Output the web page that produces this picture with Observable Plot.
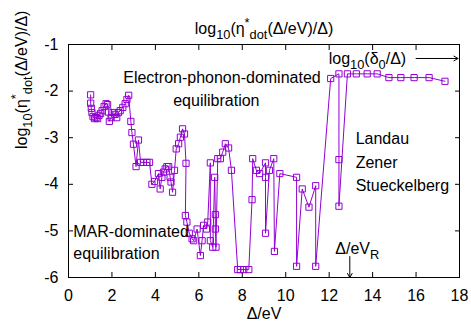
<!DOCTYPE html>
<html>
<head>
<meta charset="utf-8">
<script src="https://cdn.jsdelivr.net/npm/d3@7"></script>
<script src="https://cdn.jsdelivr.net/npm/@observablehq/plot@0.6"></script>
<style>
  html, body { margin: 0; padding: 0; background: #fff; }
  svg { font-family: "Liberation Sans", Arial, sans-serif; }
</style>
</head>
<body>
<div id="chart"></div>
<script>
// ---- data ----
const deltaEV = [
  1.02, 1.02, 1.05, 1.08, 1.13, 1.20, 1.27, 1.34, 1.41, 1.48,
  1.55, 1.64, 1.73, 1.80, 1.84, 1.88, 1.96, 2.05, 2.15, 2.22,
  2.30, 2.38, 2.50, 2.61, 2.69, 2.77, 2.87, 2.92, 2.99, 3.11,
  3.22, 3.32, 3.45, 3.61, 3.73, 3.84, 3.96, 4.14, 4.22, 4.30,
  4.37, 4.45, 4.53, 4.61, 4.68, 4.72, 4.79, 4.88, 4.96, 5.07,
  5.15, 5.25, 5.34, 5.41, 5.38, 5.45, 5.56, 5.69, 5.76, 5.92,
  6.07, 6.15, 6.22, 6.35, 6.41, 6.53, 6.53, 6.64, 6.73, 6.76,
  6.76, 6.79, 6.87, 6.99, 7.10, 7.22, 7.37, 7.50, 7.79, 7.91,
  8.07, 8.30, 8.45, 8.48, 8.65, 8.80, 9.07, 9.07, 9.07, 9.25,
  9.45, 9.48, 9.73, 10.50, 10.50, 10.76, 11.07, 11.38, 11.38, 12.07,
  12.45, 12.45, 12.45, 12.84, 13.25, 13.75, 14.21, 14.75, 15.30, 15.91,
  16.60, 17.33
];
const logEta = [
  -2.08, -2.26, -2.37, -2.46, -2.55, -2.59, -2.57, -2.59, -2.52, -2.48,
  -2.42, -2.33, -2.27, -2.29, -2.45, -2.65, -2.57, -2.46, -2.50, -2.57,
  -2.46, -2.42, -2.35, -2.27, -2.18, -2.09, -2.65, -2.89, -3.14, -3.62,
  -3.05, -3.53, -3.53, -3.53, -3.53, -4.00, -3.94, -3.77, -4.10, -3.85,
  -3.74, -3.67, -3.62, -3.62, -3.85, -3.95, -4.17, -3.70, -3.24, -3.13,
  -2.99, -2.81, -2.92, -3.55, -4.67, -4.81, -5.05, -5.17, -5.21, -4.96,
  -5.53, -5.21, -4.88, -4.96, -4.81, -3.54, -5.21, -5.35, -3.85, -4.65,
  -4.96, -5.35, -3.45, -3.45, -3.31, -3.13, -3.22, -3.70, -5.83, -5.83,
  -5.83, -5.83, -4.33, -3.45, -3.70, -3.77, -3.54, -3.85, -5.05, -3.70,
  -3.45, -5.44, -3.77, -3.85, -5.76, -4.10, -4.49, -4.03, -5.76, -1.73,
  -1.63, -3.47, -4.47, -1.63, -1.63, -1.63, -1.63, -1.71, -1.71, -1.71,
  -1.71, -1.79
];
const xTicks = [0, 2, 4, 6, 8, 10, 12, 14, 16, 18];
const yTicks = [-6, -5, -4, -3, -2, -1];
const eVR = 12.95;          // Δ/eV_R marker
const log10Delta0 = -1.3;   // log10(δ0/Δ) level indicated by the arrow

// ---- labels ----
const titleText = "log10(η*dot(Δ/eV)/Δ)";
const xLabel = "Δ/eV";
const notes = [
  {x: 2.52, y: -1.71, t: "Electron-phonon-dominated"},
  {x: 4.82, y: -2.22, t: "equilibration"},
  {x: 0.22, y: -5.02, t: "MAR-dominated"},
  {x: 0.22, y: -5.49, t: "equilibration"},
  {x: 13.22, y: -3.02, t: "Landau"},
  {x: 13.22, y: -3.53, t: "Zener"},
  {x: 13.22, y: -4.03, t: "Stueckelberg"},
  {x: 11.98, y: log10Delta0, t: "log10(δ0/Δ)"},
  {x: 12.28, y: -5.38, t: "Δ/eVR"}
];

const pts = deltaEV.map((x, i) => ({x, y: logEta[i]}));
const color = "#9400d3";

const plot = Plot.plot({
  width: 471,
  height: 326,
  marginLeft: 68,
  marginRight: 12,
  marginTop: 44,
  marginBottom: 49,
  style: {fontSize: "16px", fontFamily: "'Liberation Sans', Arial, sans-serif", color: "#000", background: "#fff"},
  x: {domain: [0, 18]},
  y: {domain: [-6, -1]},
  marks: [
    Plot.axisX(xTicks, {anchor: "bottom", tickSize: -5, tickPadding: 17.5, label: null, fontSize: 16}),
    Plot.axisX(xTicks, {anchor: "top", tickSize: -5, tickFormat: () => "", label: null}),
    Plot.axisY(yTicks, {anchor: "left", tickSize: -5, tickPadding: 15, label: null, fontSize: 16, tickFormat: d => String(d)}),
    Plot.axisY(yTicks, {anchor: "right", tickSize: -5, tickFormat: () => "", label: null}),
    Plot.frame({stroke: "#000", strokeWidth: 1}),
    Plot.line(pts, {x: "x", y: "y", stroke: color, strokeWidth: 1}),
    Plot.dot(pts, {x: "x", y: "y", symbol: "square", r: 3.5, stroke: color, fill: "none", strokeWidth: 1}),
    Plot.text(notes, {x: "x", y: "y", text: "t", textAnchor: "start", fontSize: 16, fill: "#000"}),
    Plot.arrow([{x1: 16.0, x2: 17.93, y: log10Delta0}], {x1: "x1", x2: "x2", y1: "y", y2: "y", stroke: "#000", strokeWidth: 1, headLength: 7}),
    Plot.arrow([{x: eVR, y1: -5.55, y2: -6}], {x1: "x", x2: "x", y1: "y1", y2: "y2", stroke: "#000", strokeWidth: 1, headLength: 7}),
    Plot.text([titleText], {frameAnchor: "top", dy: -22, fontSize: 16, fill: "#000"}),
    Plot.text([xLabel], {frameAnchor: "bottom", dy: 41, fontSize: 16, fill: "#000"}),
    Plot.text([titleText], {frameAnchor: "left", dx: -47, dy: -12, rotate: -90, fontSize: 16, fill: "#000"})
  ]
});

document.getElementById("chart").appendChild(plot);

// ---- sub/superscripts ----
const ns = "http://www.w3.org/2000/svg";
const richMap = {
  [titleText]: [["log", 0], ["10", "sub"], ["(η", 0], ["*", "sup"], ["dot", "sub"], ["(Δ/eV)/Δ)", 0]],
  "log10(δ0/Δ)": [["log", 0], ["10", "sub"], ["(δ", 0], ["0", "sub"], ["/Δ)", 0]],
  "Δ/eVR": [["Δ/eV", 0], ["R", "sub"]]
};
d3.select(plot).selectAll("text").each(function() {
  const parts = richMap[this.textContent];
  if (!parts || this.querySelector("tspan")) return;
  this.textContent = "";
  let shift = 0;
  for (const [s, kind] of parts) {
    const target = kind === "sub" ? 5 : kind === "sup" ? -7 : 0;
    const t = document.createElementNS(ns, "tspan");
    t.setAttribute("dy", target - shift);
    shift = target;
    if (kind) t.setAttribute("font-size", "12.8");
    t.textContent = s;
    this.appendChild(t);
  }
});
</script>
</body>
</html>
